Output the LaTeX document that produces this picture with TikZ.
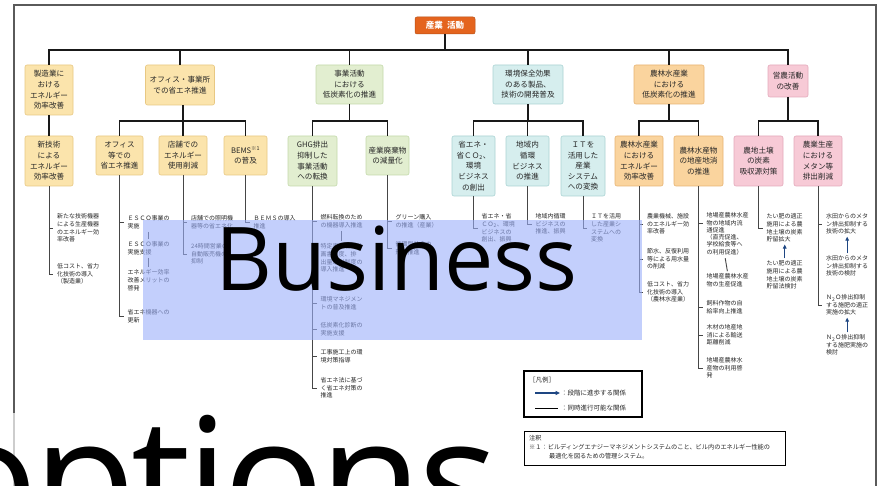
\documentclass[tikz,border=0pt]{standalone}
\usepackage{fontspec}
\newfontfamily\jp{Noto Sans CJK JP}
\newfontfamily\ovl{Open Sans}
\newfontfamily\ovlt[LetterSpace=-3]{Open Sans}
\usetikzlibrary{arrows.meta}
\definecolor{topor}{RGB}{228,100,30}
\definecolor{yfill}{RGB}{251,228,172}
\definecolor{ydraw}{RGB}{232,200,130}
\definecolor{gfill}{RGB}{226,238,208}
\definecolor{gdraw}{RGB}{196,218,170}
\definecolor{cfill}{RGB}{214,238,238}
\definecolor{cdraw}{RGB}{170,212,212}
\definecolor{ofill}{RGB}{250,212,158}
\definecolor{odraw}{RGB}{232,180,115}
\definecolor{pfill}{RGB}{247,202,214}
\definecolor{pdraw}{RGB}{228,170,188}
\definecolor{itemtxt}{RGB}{40,40,40}
\definecolor{itemln}{RGB}{70,70,70}
\definecolor{arrblue}{RGB}{30,70,130}
\definecolor{ovlblue}{RGB}{155,175,250}
\definecolor{framegray}{RGB}{90,90,90}
\tikzset{
  box/.style={rounded corners=2pt, line width=0.6pt, align=center, inner sep=0pt,
    font=\jp\fontsize{7.6}{10.6}\selectfont, text=black!85},
  ybox/.style={box, fill=yfill, draw=ydraw},
  gbox/.style={box, fill=gfill, draw=gdraw},
  cbox/.style={box, fill=cfill, draw=cdraw},
  obox/.style={box, fill=ofill, draw=odraw},
  pbox/.style={box, fill=pfill, draw=pdraw},
  topbox/.style={rounded corners=2pt, fill=topor, draw=topor!80!black, line width=0.5pt,
    inner sep=0pt, minimum width=60pt, minimum height=17pt, text=white,
    font=\jp\bfseries\fontsize{8.5}{10}\selectfont},
  tree/.style={line width=1.8pt, black!90},
  itemline/.style={line width=0.9pt, itemln},
  joinline/.style={itemline, shorten <=3pt, shorten >=2pt},
  item/.style={anchor=west, inner xsep=4pt, inner ysep=0pt, align=left,
    font=\jp\fontsize{6}{7.7}\selectfont, text=itemtxt},
  uparrow/.style={-{Triangle[length=4pt,width=3.6pt]}, line width=1.1pt, arrblue,
    shorten <=2pt, shorten >=2pt},
  legtxt/.style={anchor=west, inner sep=0pt, font=\jp\fontsize{6.5}{8}\selectfont, text=black!85},
  notetxt/.style={anchor=west, inner sep=0pt, font=\jp\fontsize{6.2}{8}\selectfont, text=black!85},
}
\begin{document}
\begin{tikzpicture}[x=1pt, y=-1pt]
\useasboundingbox (0,0) rectangle (885,486);
\clip (0,0) rectangle (885,486);
\fill[white] (0,0) rectangle (885,486);

% frame
\draw[framegray, line width=1.3pt] (14,486) -- (14,5) -- (876,5) -- (876,486);

% top
\node[topbox] (top) at (445,25.5) {産業\hspace{0.5em}活動};
\coordinate (b0) at (445,50);

% level 1
\node[ybox, minimum width=48pt, minimum height=50pt] (n1) at (49,90) {製造業に\\おける\\エネルギー\\効率改善};
\node[ybox, minimum width=69pt, minimum height=40pt] (n2) at (180,85) {オフィス・事業所\\での省エネ推進};
\node[gbox, minimum width=67pt, minimum height=39pt] (n3) at (349.5,84.5) {事業活動\\における\\低炭素化の推進};
\node[cbox, minimum width=70pt, minimum height=39pt] (n4) at (528,84.5) {環境保全効果\\のある製品、\\技術の開発普及};
\node[obox, minimum width=70pt, minimum height=39pt] (n5) at (669,84.5) {農林水産業\\における\\低炭素化の推進};
\node[pbox, minimum width=40pt, minimum height=32pt] (n6) at (788,81) {営農活動\\の改善};

\draw[tree] (top.south) -- (b0);
\draw[tree] (n1.north) -- (n1.north |- b0) -- (n6.north |- b0) -- (n6.north);
\foreach \n in {n2,n3,n4,n5} \draw[tree] (\n.north |- b0) -- (\n.north);

% level 2
\coordinate (b2) at (0,121);
\node[ybox, minimum width=48pt, minimum height=50pt] (m1) at (49,161) {新技術\\による\\エネルギー\\効率改善};
\node[ybox, minimum width=47pt, minimum height=39pt] (m21) at (119.5,155.5) {オフィス\\等での\\省エネ推進};
\node[ybox, minimum width=48pt, minimum height=39pt] (m22) at (183,155.5) {店舗での\\エネルギー\\使用削減};
\node[ybox, minimum width=43pt, minimum height=39pt] (m23) at (245.5,155.5) {BEMS\textsuperscript{※1}\\の普及};
\node[gbox, minimum width=49pt, minimum height=50pt] (m31) at (312.5,161) {GHG排出\\抑制した\\事業活動\\への転換};
\node[gbox, minimum width=43pt, minimum height=39pt] (m32) at (387.5,155.5) {産業廃棄物\\の減量化};
\node[cbox, minimum width=43pt, minimum height=60pt] (m41) at (473.5,166) {省エネ・\\省ＣＯ\textsubscript{2}、\\環境\\ビジネス\\の創出};
\node[cbox, minimum width=43pt, minimum height=50pt] (m42) at (527.5,161) {地域内\\循環\\ビジネス\\の推進};
\node[cbox, minimum width=44pt, minimum height=60pt] (m43) at (583,166) {ＩＴを\\活用した\\産業\\システム\\への変換};
\node[obox, minimum width=48pt, minimum height=50pt] (m51) at (639,161) {農林水産業\\における\\エネルギー\\効率改善};
\node[obox, minimum width=49pt, minimum height=50pt] (m52) at (698.5,161) {農林水産物\\の地産地消\\の推進};
\node[pbox, minimum width=49pt, minimum height=50pt] (m61) at (758.5,161) {農地土壌\\の炭素\\吸収源対策};
\node[pbox, minimum width=48pt, minimum height=50pt] (m62) at (818,161) {農業生産\\における\\メタン等\\排出削減};

\draw[tree] (n1.south) -- (m1.north);
\draw[tree] (m22.north |- n2.south) -- (m22.north |- b2);
\draw[tree] (m21.north) -- (m21.north |- b2) -- (m23.north |- b2) -- (m23.north);
\draw[tree] (m22.north |- b2) -- (m22.north);
\draw[tree] (n3.south) -- (n3.south |- b2);
\draw[tree] (m31.north) -- (m31.north |- b2) -- (m32.north |- b2) -- (m32.north);
\draw[tree] (n4.south) -- (n4.south |- b2);
\draw[tree] (m41.north) -- (m41.north |- b2) -- (m43.north |- b2) -- (m43.north);
\draw[tree] (m42.north |- b2) -- (m42.north);
\draw[tree] (n5.south) -- (n5.south |- b2);
\draw[tree] (m51.north) -- (m51.north |- b2) -- (m52.north |- b2) -- (m52.north);
\draw[tree] (n6.south) -- (n6.south |- b2);
\draw[tree] (m61.north) -- (m61.north |- b2) -- (m62.north |- b2) -- (m62.north);

% level 3 items
% m1
\node[item] (i11) at (53,228) {新たな技術機器\\による生産機器\\のエネルギー効\\率改善};
\node[item] (i12) at (53,274) {低コスト、省力\\化技術の導入\\（製造業）};
\draw[itemline] (m1.south) |- (i12.west);
\draw[itemline] (i11.west -| m1.south) -- (i11.west);
% m21
\node[item] (i21) at (123.5,222) {ＥＳＣＯ事業の\\実施};
\node[item] (i22) at (123.5,248) {ＥＳＣＯ事業の\\実施支援};
\node[item] (i23) at (123.5,280) {エネルギー効率\\改善メリットの\\啓発};
\node[item] (i24) at (123.5,316) {省エネ機器への\\更新};
\draw[itemline] (m21.south) |- (i24.west);
\draw[itemline] (i21.west -| m21.south) -- (i21.west);
\draw[joinline] (i21.south) -- (i22.north);
\draw[joinline] (i22.south) -- (i23.north);
% m22
\node[item] (i31) at (187,222) {店舗での照明機\\器等の省エネ化};
\node[item] (i32) at (187,254) {24時間営業の\\自動販売機の\\抑制};
\draw[itemline] (m22.south) |- (i32.west);
\draw[itemline] (i31.west -| m22.south) -- (i31.west);
% m23
\node[item] (i41) at (249.5,222) {ＢＥＭＳの導入\\推進};
\draw[itemline] (m23.south) |- (i41.west);
% m31
\node[item] (i51) at (316.5,221) {燃料転換のため\\の機器導入推進};
\node[item] (i52) at (316.5,258) {特定事業者の計\\画書制度、排\\出量取引制度の\\導入推進};
\node[item] (i53) at (316.5,303) {環境マネジメン\\トの普及推進};
\node[item] (i54) at (316.5,329) {低炭素化診断の\\実施支援};
\node[item] (i55) at (316.5,356) {工事施工上の環\\境対策指導};
\node[item] (i56) at (316.5,388) {省エネ法に基づ\\く省エネ対策の\\推進};
\draw[itemline] (m31.south) |- (i56.west);
\foreach \i in {i51,i53,i54,i55} \draw[itemline] (\i.west -| m31.south) -- (\i.west);
\draw[joinline] (i51.south) -- (i52.north);
% m32
\node[item] (i61) at (391.5,221) {グリーン購入\\の推進（産業）};
\node[item] (i62) at (391.5,248) {循環型社会の\\形成推進};
\draw[itemline] (m32.south) |- (i62.west);
\draw[itemline] (i61.west -| m32.south) -- (i61.west);
% m41..m43
\node[item] (i71) at (477.5,228) {省エネ・省\\ＣＯ\textsubscript{2}、環境\\ビジネスの\\創出、振興};
\draw[itemline] (m41.south) |- (i71.west);
\node[item] (i72) at (531.5,224) {地域内循環\\ビジネスの\\推進、振興};
\draw[itemline] (m42.south) |- (i72.west);
\node[item] (i73) at (587,228) {ＩＴを活用\\した産業シ\\ステムへの\\変換};
\draw[itemline] (m43.south) |- (i73.west);
% m51
\node[item] (i81) at (643,224) {農業機械、施設\\のエネルギー効\\率改善};
\node[item] (i82) at (643,259) {節水、反復利用\\等による用水量\\の削減};
\node[item] (i83) at (643,292) {低コスト、省力\\化技術の導入\\（農林水産業）};
\draw[itemline] (m51.south) |- (i83.west);
\foreach \i in {i81,i82} \draw[itemline] (\i.west -| m51.south) -- (\i.west);
% m52
\node[item] (i91) at (702.5,223) {地場産農林水産\\物の地域内流\\通促進};
\node[item, anchor=north west] (i91p) at (i91.south west) {（直売促進、\\学校給食等へ\\の利用促進）};
\node[item] (i92) at (702.5,280) {地場産農林水産\\物の生産促進};
\node[item] (i93) at (702.5,307) {飼料作物の自\\給率向上推進};
\node[item] (i94) at (702.5,335) {木材の地産地\\消による輸送\\距離削減};
\node[item] (i95) at (702.5,368) {地場産農林水\\産物の利用啓\\発};
\draw[itemline] (m52.south) |- (i95.west);
\foreach \i in {i91,i93,i94} \draw[itemline] (\i.west -| m52.south) -- (\i.west);
\draw[joinline] (i91p.south) -- (i92.north);
% m61
\node[item] (i101) at (762.5,228) {たい肥の適正\\施用による農\\地土壌の炭素\\貯留拡大};
\node[item] (i102) at (762.5,275) {たい肥の適正\\施用による農\\地土壌の炭素\\貯留法検討};
\draw[itemline] (m61.south) |- (i101.west);
\draw[uparrow] (i102.north) -- (i101.south);
% m62
\node[item] (i111) at (822,224) {水田からのメタ\\ン排出抑制する\\技術の拡大};
\node[item] (i112) at (822,266) {水田からのメタ\\ン排出抑制する\\技術の検討};
\node[item] (i113) at (822,305) {Ｎ\textsubscript{2}Ｏ排出抑制\\する施肥の適正\\実施の拡大};
\node[item] (i114) at (822,345) {Ｎ\textsubscript{2}Ｏ排出抑制\\する施肥実施の\\検討};
\draw[itemline] (m62.south) |- (i113.west);
\draw[itemline] (i111.west -| m62.south) -- (i111.west);
\draw[uparrow] (i112.north) -- (i111.south);
\draw[uparrow] (i114.north) -- (i113.south);

% legend
\node[draw=black, line width=1.6pt, minimum width=118pt, minimum height=46pt, inner sep=0pt] (leg) at (583,394) {};
\node[legtxt] (legt) at (529,380) {［凡例］};
\coordinate (la1) at (535,393);
\coordinate (lb1) at (535,408);
\node[legtxt] (lt1) at (561,393) {：段階に進歩する関係};
\node[legtxt] (lt2) at (561,408) {：同時進行可能な関係};
\draw[-{Triangle[length=4.5pt,width=4pt]}, line width=1.1pt, arrblue, shorten >=1pt] (la1) -- (lt1.west);
\draw[line width=0.9pt, black, shorten >=3pt] (lb1) -- (lt2.west);

% note
\node[draw=black, line width=1pt, minimum width=261pt, minimum height=34pt, inner sep=0pt] (note) at (654.5,448) {};
\node[notetxt] (nt0) at (529,438) {注釈};
\node[notetxt] (nt1) at (529,447) {※１：ビルディングエナジーマネジメントシステムのこと、ビル内のエネルギー性能の};
\node[notetxt] (nt2) at (549,456) {最適化を図るための管理システム。};

% overlays
\fill[ovlblue, opacity=0.6] (143,220) rectangle (642,340);
\node[anchor=base west, inner sep=0pt, font=\ovl\fontsize{88}{88}\selectfont] (biz) at (215,290) {Business};
\fill[white, opacity=0.7] (0,413) rectangle (470,486);
\node[anchor=base west, inner sep=0pt, font=\ovlt\fontsize{168}{168}\selectfont] (opt) at (-63,538) {options};
\end{tikzpicture}
\end{document}
